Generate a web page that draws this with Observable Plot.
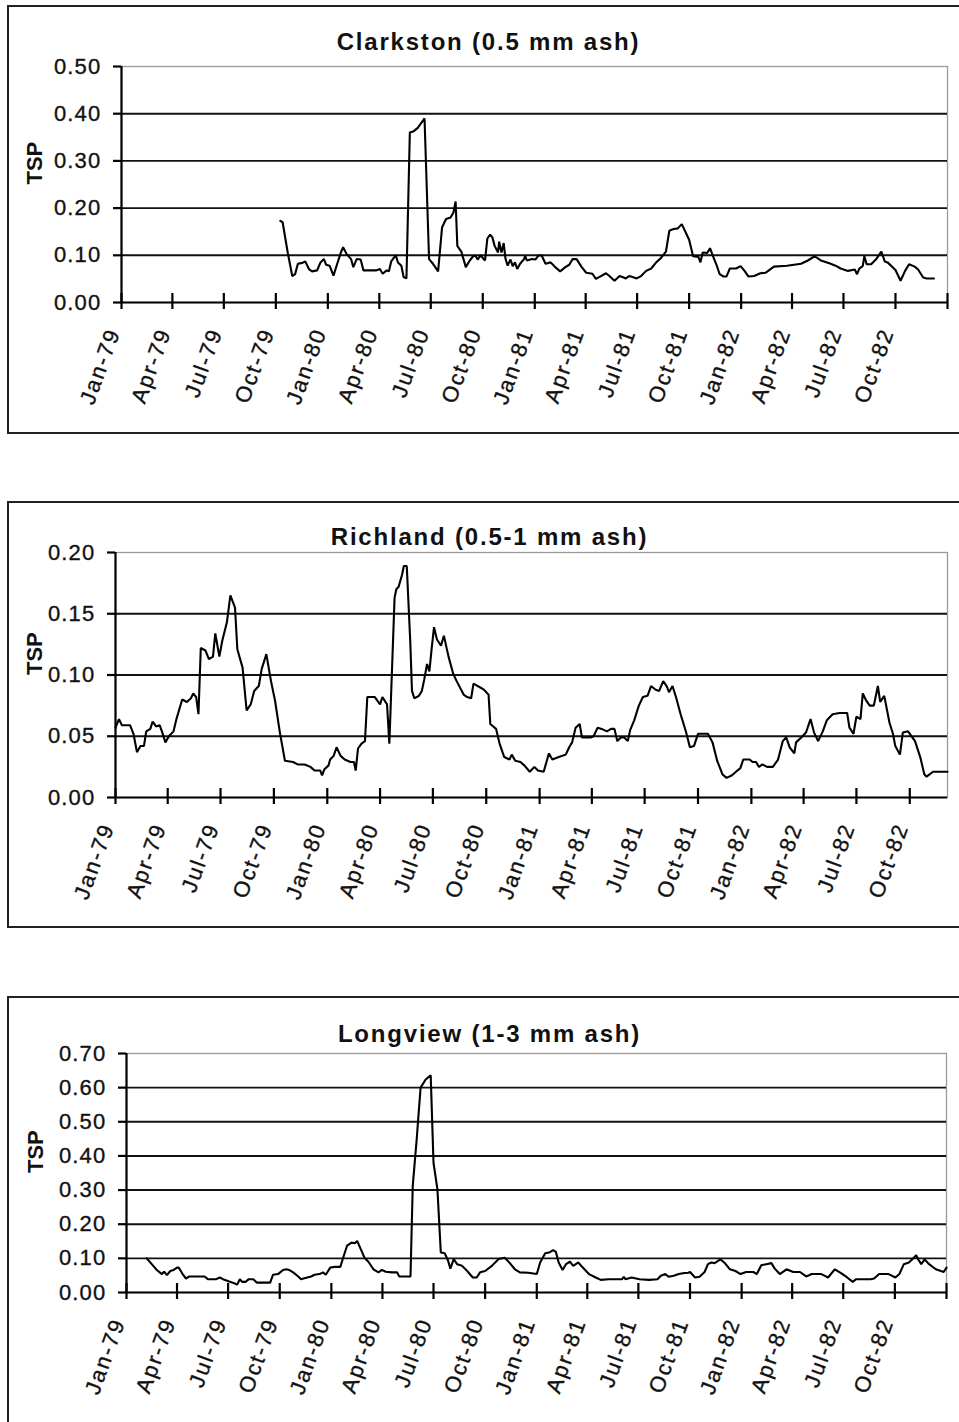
<!DOCTYPE html>
<html>
<head>
<meta charset="utf-8">
<script src="https://cdn.jsdelivr.net/npm/d3@7"></script>
<script src="https://cdn.jsdelivr.net/npm/@observablehq/plot@0.6"></script>
<style>
html, body { margin: 0; padding: 0; background: #fff; }
body { width: 959px; height: 1422px; overflow: hidden; position: relative; font-family: "Liberation Sans", Arial, sans-serif; }
.box { position: absolute; border: 2px solid #222; box-sizing: border-box; }
.panel { position: absolute; left: 0; width: 959px; }
.panel svg { display: block; }
</style>
</head>
<body>
<div class="box" style="left:7px;top:5px;width:1000px;height:429px"></div>
<div class="box" style="left:7px;top:501px;width:1000px;height:427px"></div>
<div class="box" style="left:7px;top:996px;width:1000px;height:470px"></div>
<div id="p1" class="panel" style="top:0px"></div>
<div id="p2" class="panel" style="top:480px"></div>
<div id="p3" class="panel" style="top:960px"></div>
<script>
// ---------- tick labels ----------
const quarterTicks = ["1979-01-01","1979-04-01","1979-07-01","1979-10-01","1980-01-01","1980-04-01","1980-07-01","1980-10-01",
  "1981-01-01","1981-04-01","1981-07-01","1981-10-01","1982-01-01","1982-04-01","1982-07-01","1982-10-01"];
const endTick = ["1983-01-01"];

// ---------- Clarkston (0.5 mm ash) ----------
const clarkstonTitle = "Clarkston (0.5 mm ash)";
const clarkstonYTicks = [0, 0.1, 0.2, 0.3, 0.4, 0.5];
const clarkstonRange = ["1979-01-01", "1983-01-01"];
const clarkstonDates = ["1979-10-09","1979-10-13","1979-10-22","1979-10-30","1979-11-04","1979-11-09","1979-11-17","1979-11-22","1979-11-29","1979-12-04",
"1979-12-13","1979-12-19","1979-12-25","1979-12-29","1980-01-04","1980-01-11","1980-01-17","1980-01-24","1980-01-28","1980-02-03",
"1980-02-11","1980-02-15","1980-02-21","1980-02-28","1980-03-04","1980-03-14","1980-03-27","1980-04-02","1980-04-07","1980-04-14",
"1980-04-18","1980-04-22","1980-04-30","1980-05-04","1980-05-10","1980-05-14","1980-05-19","1980-05-25","1980-06-01","1980-06-08",
"1980-06-20","1980-06-28","1980-07-05","1980-07-14","1980-07-21","1980-07-28","1980-08-05","1980-08-10","1980-08-14","1980-08-17",
"1980-08-24","1980-09-01","1980-09-08","1980-09-14","1980-09-18","1980-09-22","1980-09-27","1980-10-05","1980-10-09","1980-10-14",
"1980-10-18","1980-10-22","1980-10-28","1980-10-30","1980-11-03","1980-11-07","1980-11-10","1980-11-14","1980-11-19","1980-11-23",
"1980-11-27","1980-12-01","1980-12-06","1980-12-13","1980-12-15","1980-12-18","1980-12-27","1981-01-02","1981-01-07","1981-01-13",
"1981-01-20","1981-01-29","1981-02-06","1981-02-15","1981-02-24","1981-03-03","1981-03-09","1981-03-16","1981-03-25","1981-04-02",
"1981-04-13","1981-04-19","1981-04-28","1981-05-07","1981-05-13","1981-05-22","1981-05-31","1981-06-07","1981-06-11","1981-06-17",
"1981-06-23","1981-06-30","1981-07-08","1981-07-17","1981-07-26","1981-08-03","1981-08-12","1981-08-21","1981-08-27","1981-09-02",
"1981-09-11","1981-09-18","1981-10-01","1981-10-08","1981-10-14","1981-10-17","1981-10-21","1981-10-25","1981-11-02","1981-11-07",
"1981-11-12","1981-11-18","1981-11-24","1981-12-01","1981-12-06","1981-12-12","1981-12-23","1981-12-31","1982-01-07","1982-01-14",
"1982-01-24","1982-02-04","1982-02-13","1982-02-19","1982-02-28","1982-03-23","1982-04-17","1982-04-29","1982-05-11","1982-05-22",
"1982-06-06","1982-06-17","1982-06-26","1982-07-09","1982-07-21","1982-07-25","1982-07-29","1982-08-04","1982-08-07","1982-08-11",
"1982-08-19","1982-08-28","1982-09-06","1982-09-12","1982-09-17","1982-10-01","1982-10-10","1982-10-18","1982-10-25","1982-11-04",
"1982-11-10","1982-11-19","1982-11-25","1982-12-08"];
const clarkstonTSP = [0.173,0.170,0.106,0.056,0.060,0.082,0.084,0.087,0.070,0.066,
0.068,0.085,0.092,0.080,0.078,0.057,0.080,0.106,0.117,0.103,
0.092,0.075,0.092,0.091,0.068,0.068,0.068,0.071,0.061,0.068,
0.066,0.087,0.100,0.085,0.078,0.054,0.051,0.360,0.363,0.370,
0.390,0.092,0.082,0.066,0.159,0.177,0.180,0.190,0.214,0.120,
0.108,0.075,0.089,0.098,0.099,0.091,0.100,0.089,0.135,0.144,
0.138,0.120,0.106,0.129,0.106,0.126,0.094,0.078,0.091,0.077,
0.085,0.071,0.082,0.092,0.099,0.089,0.092,0.091,0.099,0.100,
0.082,0.085,0.075,0.066,0.075,0.080,0.092,0.092,0.075,0.063,
0.061,0.050,0.056,0.062,0.056,0.046,0.056,0.053,0.051,0.056,
0.054,0.051,0.056,0.067,0.072,0.084,0.094,0.108,0.152,0.155,
0.157,0.166,0.133,0.098,0.097,0.098,0.085,0.106,0.105,0.115,
0.099,0.081,0.060,0.055,0.055,0.072,0.072,0.077,0.067,0.055,
0.056,0.062,0.063,0.068,0.076,0.078,0.082,0.089,0.098,0.089,
0.083,0.078,0.072,0.067,0.070,0.060,0.072,0.077,0.098,0.081,
0.081,0.092,0.108,0.087,0.085,0.069,0.046,0.067,0.081,0.076,
0.070,0.053,0.051,0.051];

// ---------- Richland (0.5-1 mm ash) ----------
const richlandTitle = "Richland (0.5-1 mm ash)";
const richlandYTicks = [0, 0.05, 0.10, 0.15, 0.20];
const richlandRange = ["1979-01-01", "1982-12-05"];
const richlandDates = ["1979-01-01","1979-01-07","1979-01-12","1979-01-26","1979-02-01","1979-02-07","1979-02-13","1979-02-19","1979-02-23","1979-03-02",
"1979-03-06","1979-03-12","1979-03-18","1979-03-22","1979-03-28","1979-04-03","1979-04-11","1979-04-16","1979-04-26","1979-05-04",
"1979-05-11","1979-05-15","1979-05-20","1979-05-24","1979-05-28","1979-06-05","1979-06-11","1979-06-18","1979-06-22","1979-06-29",
"1979-07-04","1979-07-12","1979-07-18","1979-07-26","1979-07-30","1979-08-08","1979-08-15","1979-08-22","1979-08-28","1979-09-05",
"1979-09-10","1979-09-18","1979-09-26","1979-10-03","1979-10-11","1979-10-20","1979-11-03","1979-11-11","1979-11-23","1979-12-03",
"1979-12-10","1979-12-20","1979-12-23","1979-12-27","1980-01-03","1980-01-06","1980-01-12","1980-01-17","1980-01-24","1980-01-31",
"1980-02-10","1980-02-16","1980-02-19","1980-02-23","1980-02-29","1980-03-06","1980-03-10","1980-03-23","1980-04-01","1980-04-05",
"1980-04-13","1980-04-17","1980-04-26","1980-04-29","1980-05-03","1980-05-09","1980-05-12","1980-05-17","1980-05-23","1980-05-26",
"1980-05-30","1980-06-07","1980-06-12","1980-06-16","1980-06-21","1980-06-25","1980-06-29","1980-07-03","1980-07-08","1980-07-15",
"1980-07-20","1980-07-28","1980-08-05","1980-08-11","1980-08-23","1980-08-29","1980-09-05","1980-09-09","1980-09-20","1980-09-27",
"1980-10-05","1980-10-08","1980-10-18","1980-10-24","1980-11-01","1980-11-10","1980-11-14","1980-11-20","1980-11-29","1980-12-06",
"1980-12-15","1980-12-23","1980-12-29","1981-01-08","1981-01-17","1981-01-23","1981-02-03","1981-02-15","1981-02-21","1981-02-26",
"1981-03-04","1981-03-11","1981-03-15","1981-03-24","1981-03-30","1981-04-04","1981-04-11","1981-04-18","1981-04-27","1981-05-04",
"1981-05-10","1981-05-15","1981-05-21","1981-05-27","1981-06-02","1981-06-06","1981-06-13","1981-06-21","1981-06-28","1981-07-06",
"1981-07-12","1981-07-20","1981-07-26","1981-08-02","1981-08-08","1981-08-12","1981-08-18","1981-08-24","1981-09-01","1981-09-10",
"1981-09-17","1981-09-24","1981-10-01","1981-10-07","1981-10-18","1981-10-26","1981-11-03","1981-11-12","1981-11-19","1981-11-28",
"1981-12-08","1981-12-13","1981-12-18","1981-12-29","1982-01-03","1982-01-09","1982-01-14","1982-01-20","1982-01-28","1982-02-07",
"1982-02-16","1982-02-24","1982-03-02","1982-03-08","1982-03-16","1982-03-19","1982-03-28","1982-04-05","1982-04-13","1982-04-19",
"1982-04-26","1982-05-04","1982-05-11","1982-05-21","1982-06-02","1982-06-15","1982-06-19","1982-06-26","1982-07-01","1982-07-08",
"1982-07-12","1982-07-18","1982-07-24","1982-07-31","1982-08-07","1982-08-11","1982-08-18","1982-08-27","1982-09-02","1982-09-06",
"1982-09-14","1982-09-19","1982-09-28","1982-10-10","1982-10-19","1982-10-26","1982-10-30","1982-11-10","1982-12-05"];
const richlandTSP = [0.057,0.064,0.059,0.059,0.052,0.037,0.042,0.042,0.054,0.056,
0.062,0.058,0.059,0.054,0.045,0.050,0.054,0.064,0.080,0.078,
0.081,0.085,0.082,0.068,0.122,0.120,0.113,0.115,0.134,0.115,
0.128,0.143,0.165,0.155,0.121,0.106,0.071,0.076,0.087,0.091,
0.105,0.117,0.095,0.079,0.054,0.030,0.029,0.027,0.027,0.025,
0.022,0.022,0.018,0.023,0.026,0.031,0.034,0.041,0.034,0.031,
0.029,0.029,0.022,0.040,0.044,0.046,0.082,0.082,0.076,0.082,
0.076,0.044,0.163,0.170,0.172,0.182,0.189,0.189,0.128,0.087,
0.081,0.083,0.087,0.096,0.109,0.103,0.122,0.139,0.129,0.124,
0.132,0.115,0.101,0.095,0.084,0.082,0.081,0.093,0.090,0.088,
0.084,0.060,0.056,0.044,0.033,0.031,0.035,0.030,0.029,0.026,
0.021,0.025,0.022,0.021,0.036,0.031,0.033,0.035,0.041,0.045,
0.057,0.060,0.049,0.049,0.049,0.050,0.057,0.056,0.054,0.056,
0.056,0.046,0.049,0.049,0.046,0.055,0.063,0.075,0.082,0.083,
0.091,0.088,0.087,0.095,0.091,0.086,0.091,0.082,0.068,0.054,
0.041,0.042,0.052,0.052,0.052,0.045,0.030,0.019,0.016,0.018,
0.022,0.024,0.031,0.031,0.029,0.029,0.025,0.027,0.025,0.025,
0.031,0.046,0.049,0.041,0.036,0.045,0.049,0.053,0.064,0.053,
0.046,0.054,0.063,0.068,0.069,0.069,0.057,0.052,0.066,0.064,
0.085,0.079,0.075,0.075,0.091,0.078,0.083,0.061,0.052,0.042,
0.035,0.053,0.054,0.046,0.033,0.019,0.017,0.021,0.021];

// ---------- Longview (1-3 mm ash) ----------
const longviewTitle = "Longview (1-3 mm ash)";
const longviewYTicks = [0, 0.1, 0.2, 0.3, 0.4, 0.5, 0.6, 0.7];
const longviewRange = ["1979-01-01", "1983-01-01"];
const longviewDates = ["1979-02-06","1979-02-15","1979-02-24","1979-03-05","1979-03-09","1979-03-14","1979-03-20","1979-03-26","1979-04-01","1979-04-04",
"1979-04-11","1979-04-17","1979-04-23","1979-05-03","1979-05-20","1979-05-26","1979-06-10","1979-06-16","1979-06-22","1979-07-03",
"1979-07-12","1979-07-17","1979-07-22","1979-07-26","1979-08-01","1979-08-07","1979-08-15","1979-08-21","1979-09-07","1979-09-14",
"1979-09-19","1979-09-28","1979-10-07","1979-10-13","1979-10-19","1979-10-25","1979-11-03","1979-11-08","1979-11-14","1979-11-26",
"1979-12-02","1979-12-11","1979-12-17","1979-12-22","1979-12-30","1980-01-07","1980-01-17","1980-01-23","1980-01-29","1980-02-06",
"1980-02-12","1980-02-16","1980-02-21","1980-02-29","1980-03-07","1980-03-16","1980-03-25","1980-03-31","1980-04-07","1980-04-18",
"1980-04-27","1980-05-01","1980-05-21","1980-05-25","1980-06-01","1980-06-08","1980-06-17","1980-06-26","1980-07-01","1980-07-08",
"1980-07-14","1980-07-21","1980-07-27","1980-07-31","1980-08-06","1980-08-12","1980-08-21","1980-08-30","1980-09-09","1980-09-16",
"1980-09-22","1980-10-01","1980-10-13","1980-10-25","1980-11-05","1980-11-14","1980-11-23","1980-12-02","1980-12-17","1981-01-01",
"1981-01-07","1981-01-16","1981-01-23","1981-01-30","1981-02-04","1981-02-09","1981-02-16","1981-02-22","1981-03-01","1981-03-07",
"1981-03-16","1981-03-24","1981-04-04","1981-04-16","1981-04-25","1981-05-09","1981-06-02","1981-06-05","1981-06-08","1981-06-19",
"1981-07-03","1981-07-20","1981-08-04","1981-08-10","1981-08-18","1981-08-24","1981-09-02","1981-09-11","1981-09-21","1981-09-28",
"1981-10-01","1981-10-10","1981-10-18","1981-10-27","1981-11-02","1981-11-08","1981-11-14","1981-11-24","1981-12-01","1981-12-11",
"1981-12-21","1981-12-30","1982-01-09","1982-01-22","1982-01-28","1982-02-05","1982-02-14","1982-02-23","1982-03-01","1982-03-10",
"1982-03-22","1982-04-03","1982-04-15","1982-04-26","1982-05-06","1982-05-15","1982-05-23","1982-06-04","1982-06-16","1982-06-27",
"1982-07-08","1982-07-18","1982-07-24","1982-08-19","1982-08-25","1982-09-03","1982-09-20","1982-10-02","1982-10-09","1982-10-17",
"1982-10-26","1982-11-02","1982-11-08","1982-11-12","1982-11-17","1982-11-23","1982-12-01","1982-12-13","1982-12-22","1982-12-27",
"1983-01-01"];
const longviewTSP = [0.100,0.083,0.066,0.054,0.061,0.051,0.063,0.066,0.073,0.073,
0.054,0.041,0.047,0.047,0.047,0.039,0.039,0.044,0.039,0.032,
0.027,0.023,0.039,0.031,0.031,0.039,0.039,0.029,0.029,0.029,
0.052,0.054,0.066,0.068,0.065,0.059,0.047,0.039,0.042,0.047,
0.052,0.054,0.059,0.052,0.073,0.075,0.075,0.107,0.137,0.146,
0.144,0.151,0.132,0.102,0.090,0.068,0.059,0.066,0.061,0.059,
0.059,0.047,0.047,0.312,0.448,0.600,0.624,0.636,0.380,0.302,
0.117,0.115,0.093,0.070,0.098,0.083,0.078,0.063,0.044,0.044,
0.059,0.063,0.078,0.098,0.102,0.086,0.068,0.059,0.058,0.054,
0.088,0.115,0.117,0.124,0.119,0.088,0.066,0.083,0.090,0.078,
0.088,0.073,0.054,0.044,0.037,0.039,0.039,0.046,0.039,0.044,
0.039,0.037,0.039,0.049,0.054,0.046,0.049,0.054,0.057,0.058,
0.060,0.044,0.046,0.060,0.083,0.088,0.086,0.097,0.088,0.068,
0.063,0.054,0.060,0.060,0.054,0.080,0.083,0.086,0.070,0.054,
0.068,0.060,0.060,0.047,0.054,0.054,0.054,0.044,0.068,0.057,
0.044,0.031,0.039,0.039,0.041,0.054,0.054,0.044,0.054,0.083,
0.088,0.099,0.109,0.096,0.083,0.097,0.083,0.068,0.063,0.060,
0.073];

// ---------- drawing ----------
const fmt = d3.utcFormat("%b-%y");
const FONT = "'Liberation Sans', Arial, Helvetica, sans-serif";

function panel(el, cfg) {
  const data = cfg.dates.map((d, i) => ({date: new Date(d), tsp: cfg.values[i]}));
  const domain = cfg.range.map(d => new Date(d));
  const W = 959;
  const innerW = W - cfg.ml - cfg.mr;
  const innerH = cfg.height - cfg.mt - cfg.mb;
  const yMax = cfg.yTicks[cfg.yTicks.length - 1];
  const labelDates = quarterTicks.map(d => new Date(d));
  const markDates = quarterTicks.concat(endTick).map(d => new Date(d)).filter(d => d >= domain[0] && d <= domain[1]);
  const svg = Plot.plot({
    width: W, height: cfg.height,
    marginLeft: cfg.ml, marginRight: cfg.mr, marginTop: cfg.mt, marginBottom: cfg.mb,
    style: {background: "transparent", overflow: "visible", fontFamily: FONT, color: "#111"},
    x: {type: "utc", domain, axis: null},
    y: {domain: [0, yMax], axis: null},
    marks: [
      Plot.frame({stroke: "#9a9a9a", strokeWidth: 1.3}),
      Plot.ruleY(cfg.yTicks.filter(v => v > 0 && v < yMax), {stroke: "#111", strokeWidth: 1.9}),
      Plot.line(data, {x: "date", y: "tsp", stroke: "#000", strokeWidth: 2.1, strokeLinejoin: "miter"}),
      Plot.ruleY([0], {stroke: "#000", strokeWidth: 2.2}),
      Plot.ruleX([domain[0]], {stroke: "#000", strokeWidth: 2.2}),
      Plot.ruleY(cfg.yTicks, {stroke: "#000", strokeWidth: 2.2, insetLeft: -8, insetRight: innerW}),
      Plot.ruleX(markDates, {stroke: "#000", strokeWidth: 2.2, insetTop: innerH - 9, insetBottom: -7}),
      Plot.text(cfg.yTicks, {y: d => d, frameAnchor: "left", dx: -20, textAnchor: "end", lineAnchor: "middle",
        text: d => d.toFixed(2), fontSize: 22, fill: "#111", stroke: "#111", strokeWidth: 0.35}),
      Plot.text(labelDates, {x: d => d, frameAnchor: "bottom", dx: -1, dy: 29, rotate: -70,
        textAnchor: "end", text: d => fmt(d), fontSize: 22, fill: "#111", stroke: "#111", strokeWidth: 0.35}),
      Plot.text(["TSP"], {frameAnchor: "left", dx: cfg.tspDx, rotate: -90, lineAnchor: "middle", fontWeight: "bold", fontSize: 22, fill: "#111"}),
      Plot.text([cfg.title], {frameAnchor: "top", dx: cfg.titleDx, dy: cfg.titleDy, lineAnchor: "middle", fontWeight: "bold", fontSize: 24, fill: "#111"})
    ]
  });
  d3.select(svg).selectAll("text").style("letter-spacing", "1.2px");
  d3.select(svg).selectAll("text").filter(function() { return /-\d\d$/.test(this.textContent); }).style("letter-spacing", "2px");
  d3.select(svg).selectAll("text").filter(function() { return this.textContent === cfg.title; }).style("letter-spacing", "1.8px");
  d3.select(svg).selectAll("text").filter(function() { return this.textContent === "TSP"; }).style("letter-spacing", "0px");
  document.getElementById(el).appendChild(svg);
}

panel("p1", {title: clarkstonTitle, dates: clarkstonDates, values: clarkstonTSP, yTicks: clarkstonYTicks, range: clarkstonRange,
  height: 440, ml: 121, mr: 12, mt: 66, mb: 138, tspDx: -87, titleDx: -46, titleDy: -24});
panel("p2", {title: richlandTitle, dates: richlandDates, values: richlandTSP, yTicks: richlandYTicks, range: richlandRange,
  height: 460, ml: 115, mr: 12, mt: 72, mb: 143, tspDx: -81, titleDx: -42, titleDy: -15});
panel("p3", {title: longviewTitle, dates: longviewDates, values: longviewTSP, yTicks: longviewYTicks, range: longviewRange,
  height: 462, ml: 126, mr: 13, mt: 93, mb: 130, tspDx: -91, titleDx: -47, titleDy: -19});
</script>
</body>
</html>
